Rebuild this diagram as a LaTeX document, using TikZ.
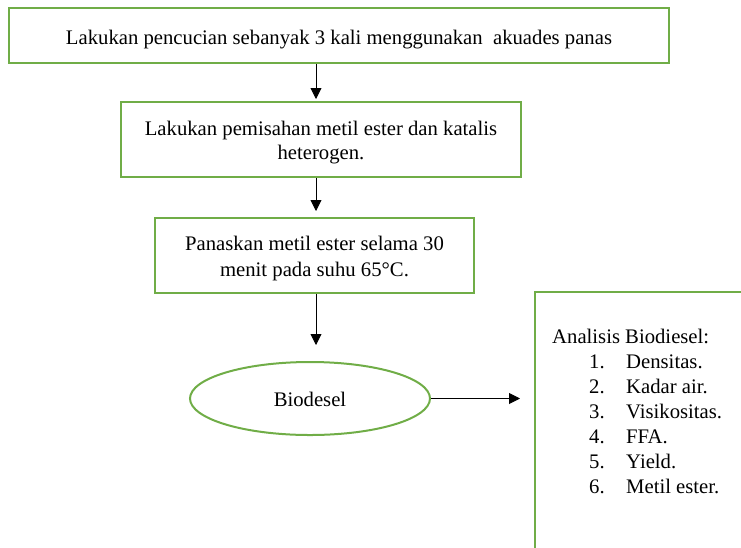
\documentclass[tikz,border=0pt]{standalone}
\usepackage{fontspec}
\setmainfont{Liberation Serif}
\usetikzlibrary{arrows.meta,shapes.geometric}
\definecolor{boxgreen}{RGB}{112,173,71}
\begin{document}
\begin{tikzpicture}[x=1pt,y=-1pt,
  box/.style={draw=boxgreen,line width=2pt,rectangle,inner sep=0pt},
  oval/.style={draw=boxgreen,line width=2pt,ellipse,inner sep=0pt},
  txt/.style={inner sep=0pt,font=\fontsize{20.7}{25}\selectfont},
  flow/.style={draw=black,line width=0.9pt,-{Triangle[length=11pt,width=11pt]}}]
\useasboundingbox (0,0) rectangle (741,547);
\clip (0,0) rectangle (741,547);
% boxes
\node[box,minimum width=660,minimum height=55] (b1) at (339,35.5) {};
\node[box,minimum width=400,minimum height=75] (b2) at (321,139.5) {};
\node[box,minimum width=319,minimum height=75] (b3) at (314.5,255.5) {};
\node[oval,minimum width=240,minimum height=73] (ell) at (310,398.5) {};
\node[box,minimum width=300,minimum height=300,anchor=north west] (rb) at (534,291) {};
% texts
\node[txt,anchor=base] (t1) at (339,44) {Lakukan pencucian sebanyak 3 kali menggunakan\ \ akuades panas};
\node[txt,anchor=base] (t2a) at (321,135) {Lakukan pemisahan metil ester dan katalis};
\node[txt,anchor=base] (t2b) at (321,159) {heterogen.};
\node[txt,anchor=base] (t3a) at (314.5,250) {Panaskan metil ester selama 30};
\node[txt,anchor=base] (t3b) at (314.5,276) {menit pada suhu 65°C.};
\node[txt,anchor=base] (t4) at (310,406) {Biodesel};
\node[txt,anchor=base west] (h) at (552,343) {Analisis Biodiesel:};
\foreach \i/\t in {1/Densitas.,2/Kadar air.,3/Visikositas.,4/FFA.,5/Yield.,6/Metil ester.}{
  \node[txt,anchor=base west] (n\i) at (589,343+25*\i) {\i.};
  \node[txt,anchor=base west] (l\i) at (626,343+25*\i) {\t};
}
% connectors
\coordinate (ax) at (316,0);
\draw[flow,shorten >=2pt] (b1.south -| ax) -- (b2.north -| ax);
\draw[flow,shorten >=6pt] (b2.south -| ax) -- (b3.north -| ax);
\draw[flow,shorten >=16pt] (b3.south -| ax) -- (ell.north -| ax);
\draw[flow,shorten >=14pt] (ell.east) -- (ell.east -| rb.west);
\end{tikzpicture}
\end{document}
